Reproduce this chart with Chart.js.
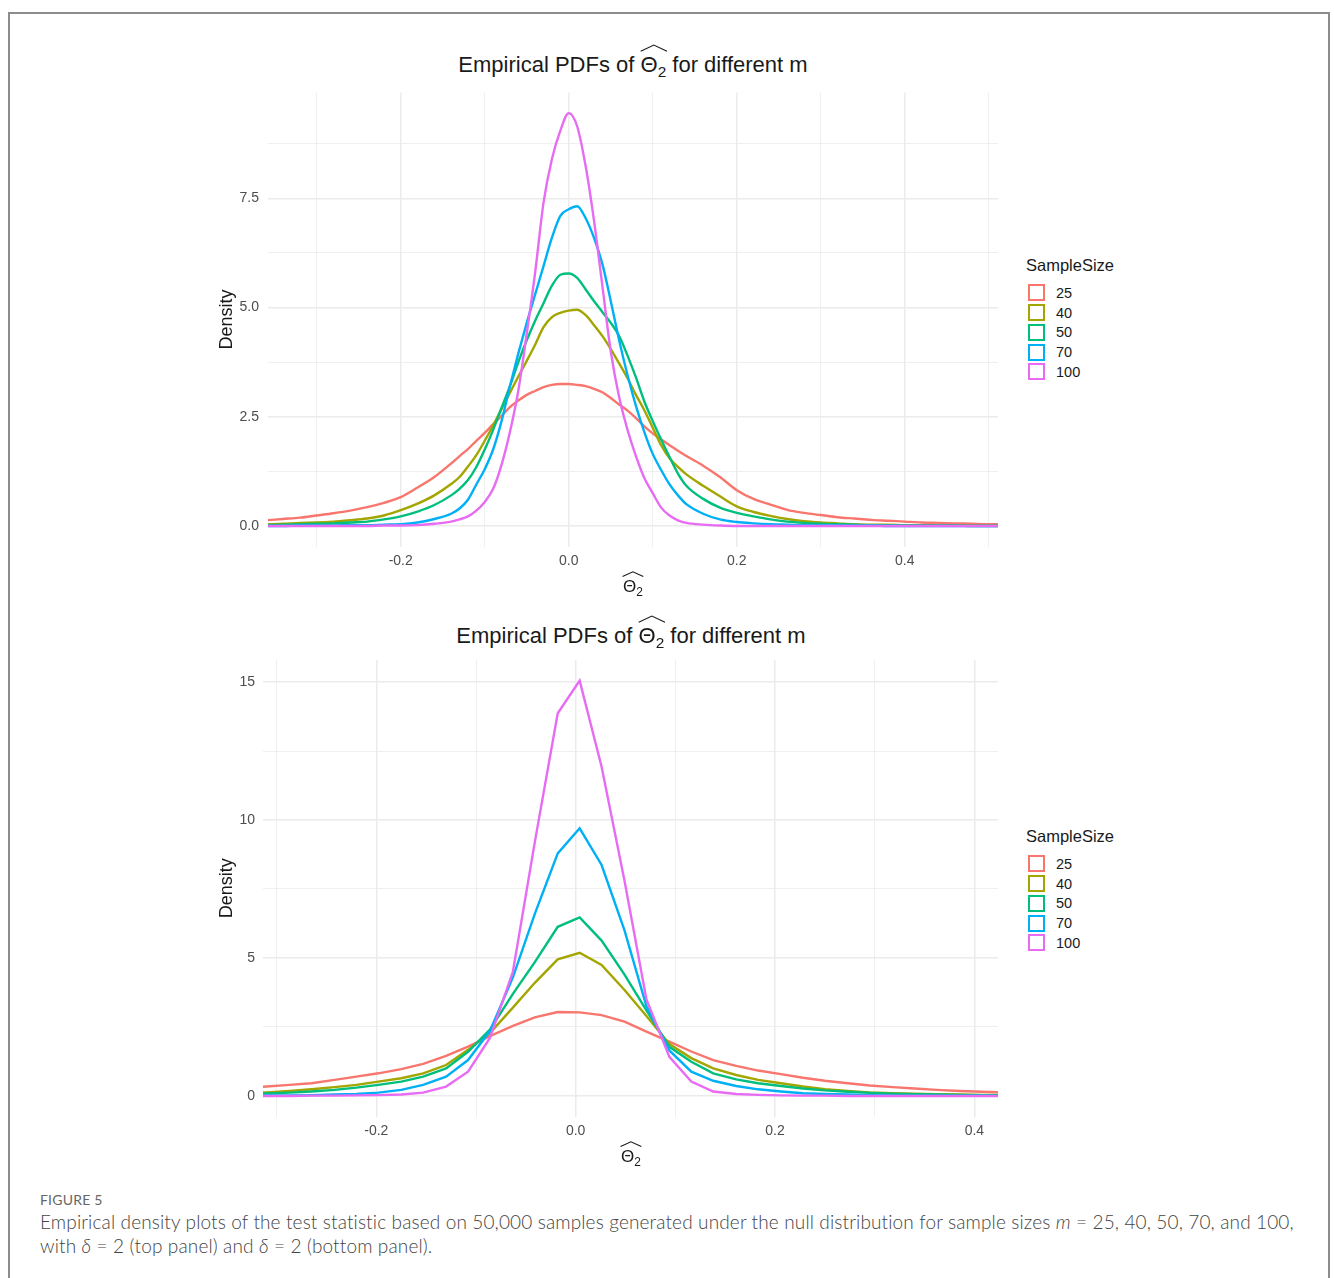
<!DOCTYPE html>
<html>
<head>
<meta charset="utf-8">
<title>Figure 5</title>
<script src="https://cdn.jsdelivr.net/npm/chart.js@4.4.1/dist/chart.umd.min.js"></script>
<style>
  body { margin: 0; width: 1334px; height: 1278px; overflow: hidden; background: #fff; position: relative;
         font-family: "Liberation Sans", Arial, sans-serif; }
  .frame { position: absolute; left: 8px; top: 12px; width: 1322px; height: 1300px; border: 2px solid #8c8c8c; box-sizing: border-box; }
  canvas { position: absolute; }
  .plot-title { position: absolute; width: 800px; text-align: center; font-size: 22px; line-height: 26px; color: #1a1a1a; }
  .axis-title { position: absolute; width: 100px; text-align: center; font-size: 17px; line-height: 20px; color: #1a1a1a; }
  .hatted { position: relative; display: inline-block; }
  .hatted sub { font-size: 0.7em; line-height: 0; vertical-align: -0.3em; }
  .hat { position: absolute; left: -1px; top: -0.38em; width: calc(100% + 2px); height: 0.36em; overflow: visible; }
  .hat polyline { fill: none; stroke: #1a1a1a; stroke-width: 1.1; vector-effect: non-scaling-stroke; }
  .legend { position: absolute; left: 1026px; color: #1a1a1a; }
  .legend-title { font-size: 16.5px; line-height: 20px; margin-bottom: 8px; }
  .legend-row { height: 19.75px; display: flex; align-items: center; font-size: 14.5px; }
  .legend-key { width: 13px; height: 13px; border: 2px solid; margin: 0 11px 0 2px; background: #fff; }
  .fig-label { position: absolute; left: 40px; top: 1191px; font: 400 14px Lato, sans-serif; color: #666; letter-spacing: 0.2px; }
  .caption { position: absolute; left: 40px; top: 1210px; font: 300 19px/24px Lato, sans-serif; color: #444; white-space: nowrap; letter-spacing: 0.14px; }
  .caption i { font-style: italic; font-weight: 300; }
</style>
</head>
<body>
<div class="frame"></div>

<div class="plot-title" style="left:233px; top:52px;">Empirical PDFs of <span class="hatted">Θ<sub>2</sub><svg class="hat" viewBox="0 0 20 6" preserveAspectRatio="none"><polyline points="0.5,5.5 10,0.8 19.5,5.5"/></svg></span> for different m</div>
<canvas id="top-chart" width="800" height="500" style="left:200px; top:88px;"></canvas>
<div class="axis-title" style="left:583px; top:577px;"><span class="hatted">Θ<sub>2</sub><svg class="hat" viewBox="0 0 20 6" preserveAspectRatio="none"><polyline points="0.5,5.5 10,0.8 19.5,5.5"/></svg></span></div>
<div class="legend" id="top-legend" style="top:255px;"></div>

<div class="plot-title" style="left:231px; top:623px;">Empirical PDFs of <span class="hatted">Θ<sub>2</sub><svg class="hat" viewBox="0 0 20 6" preserveAspectRatio="none"><polyline points="0.5,5.5 10,0.8 19.5,5.5"/></svg></span> for different m</div>
<canvas id="bottom-chart" width="805" height="505" style="left:195px; top:655px;"></canvas>
<div class="axis-title" style="left:581px; top:1147px;"><span class="hatted">Θ<sub>2</sub><svg class="hat" viewBox="0 0 20 6" preserveAspectRatio="none"><polyline points="0.5,5.5 10,0.8 19.5,5.5"/></svg></span></div>
<div class="legend" id="bottom-legend" style="top:826px;"></div>

<div class="fig-label">FIGURE 5</div>
<div class="caption">Empirical density plots of the test statistic based on 50,000 samples generated under the null distribution for sample sizes <i>m</i> = 25, 40, 50, 70, and 100,<br>with <i>δ</i> = 2 (top panel) and <i>δ</i> = 2 (bottom panel).</div>

<script>
const sampleSizes = ['25', '40', '50', '70', '100'];
const lineColors = ['#F8766D', '#A3A500', '#00BF7D', '#00B0F6', '#E76BF3'];

// top panel: smooth density estimates
const topX = [-0.36, -0.34, -0.32, -0.30, -0.28, -0.26, -0.24, -0.22, -0.20, -0.18, -0.16, -0.14,
  -0.13, -0.12, -0.11, -0.10, -0.09, -0.08, -0.07, -0.06, -0.05, -0.04, -0.03, -0.02, -0.01, 0.00,
  0.01, 0.02, 0.03, 0.04, 0.05, 0.06, 0.07, 0.08, 0.09, 0.10, 0.11, 0.12, 0.13, 0.14,
  0.16, 0.18, 0.20, 0.22, 0.24, 0.26, 0.28, 0.30, 0.32, 0.34, 0.36, 0.38, 0.40, 0.42, 0.44, 0.46, 0.48, 0.50, 0.52];
const top25 = [0.13, 0.16, 0.19, 0.24, 0.29, 0.35, 0.43, 0.53, 0.66, 0.88, 1.12, 1.43,
  1.60, 1.76, 1.95, 2.13, 2.33, 2.52, 2.72, 2.87, 3.00, 3.09, 3.18, 3.23, 3.25, 3.25,
  3.23, 3.20, 3.14, 3.06, 2.93, 2.78, 2.64, 2.47, 2.28, 2.12, 1.98, 1.85, 1.72, 1.60,
  1.38, 1.12, 0.82, 0.62, 0.49, 0.37, 0.30, 0.25, 0.20, 0.17, 0.14, 0.12, 0.10, 0.08, 0.07, 0.06, 0.05, 0.04, 0.04];
const top40 = [0.04, 0.05, 0.07, 0.08, 0.10, 0.13, 0.17, 0.24, 0.36, 0.51, 0.70, 0.96,
  1.12, 1.36, 1.62, 1.95, 2.30, 2.68, 3.05, 3.42, 3.78, 4.15, 4.55, 4.78, 4.88, 4.93,
  4.95, 4.83, 4.60, 4.35, 4.05, 3.72, 3.38, 3.00, 2.65, 2.25, 1.85, 1.55, 1.35, 1.18,
  0.92, 0.68, 0.45, 0.32, 0.23, 0.16, 0.11, 0.08, 0.06, 0.04, 0.03, 0.03, 0.02, 0.02, 0.01, 0.01, 0.01, 0.01, 0.01];
const top50 = [0.02, 0.03, 0.04, 0.05, 0.06, 0.08, 0.10, 0.15, 0.22, 0.33, 0.48, 0.70,
  0.85, 1.05, 1.35, 1.75, 2.20, 2.70, 3.20, 3.75, 4.25, 4.70, 5.10, 5.50, 5.75, 5.78,
  5.68, 5.42, 5.15, 4.90, 4.65, 4.35, 3.90, 3.40, 2.85, 2.40, 1.98, 1.58, 1.20, 0.92,
  0.62, 0.42, 0.30, 0.22, 0.15, 0.10, 0.07, 0.05, 0.04, 0.03, 0.02, 0.02, 0.01, 0.01, 0.01, 0.01, 0.00, 0.00, 0.00];
const top70 = [0.00, 0.00, 0.01, 0.01, 0.01, 0.02, 0.02, 0.03, 0.04, 0.08, 0.16, 0.28,
  0.40, 0.60, 0.95, 1.30, 1.75, 2.40, 3.20, 3.95, 4.65, 5.30, 5.95, 6.60, 7.10, 7.25,
  7.32, 7.05, 6.60, 6.00, 5.15, 4.25, 3.45, 2.75, 2.15, 1.65, 1.28, 0.95, 0.70, 0.50,
  0.28, 0.15, 0.09, 0.06, 0.04, 0.03, 0.02, 0.02, 0.01, 0.01, 0.01, 0.00, 0.00, 0.00, 0.00, 0.00, 0.00, 0.00, 0.00];
const top100 = [0.00, 0.00, 0.00, 0.00, 0.00, 0.00, 0.00, 0.01, 0.01, 0.02, 0.05, 0.10,
  0.15, 0.22, 0.35, 0.55, 0.85, 1.40, 2.15, 3.10, 4.40, 5.80, 7.40, 8.40, 9.05, 9.45,
  9.15, 8.25, 7.00, 5.50, 4.00, 2.95, 2.20, 1.60, 1.10, 0.75, 0.42, 0.24, 0.13, 0.07,
  0.03, 0.01, 0.00, 0.00, 0.00, 0.00, 0.00, 0.00, 0.00, 0.00, 0.00, 0.00, 0.00, 0.00, 0.00, 0.00, 0.00, 0.00, 0.00];

// bottom panel: frequency polygons
const bottomX = [-0.332, -0.310, -0.287, -0.265, -0.242, -0.220, -0.198, -0.175, -0.153, -0.130, -0.108, -0.086,
  -0.063, -0.041, -0.018, 0.004, 0.026, 0.049, 0.071, 0.094, 0.116, 0.138, 0.161, 0.183, 0.206, 0.228,
  0.250, 0.273, 0.295, 0.318, 0.340, 0.362, 0.385, 0.407, 0.430];
const bottom25 = [0.30, 0.34, 0.40, 0.46, 0.58, 0.70, 0.82, 0.97, 1.16, 1.45, 1.79, 2.17,
  2.54, 2.85, 3.04, 3.03, 2.93, 2.69, 2.33, 1.97, 1.61, 1.30, 1.09, 0.92, 0.79, 0.66,
  0.55, 0.46, 0.38, 0.32, 0.27, 0.22, 0.18, 0.15, 0.13];
const bottom40 = [0.11, 0.13, 0.18, 0.24, 0.32, 0.40, 0.52, 0.64, 0.82, 1.12, 1.67, 2.28,
  3.20, 4.10, 4.95, 5.19, 4.75, 3.84, 2.90, 1.88, 1.37, 1.00, 0.76, 0.58, 0.46, 0.34,
  0.24, 0.18, 0.13, 0.10, 0.08, 0.06, 0.05, 0.04, 0.03];
const bottom50 = [0.08, 0.09, 0.12, 0.16, 0.22, 0.30, 0.40, 0.52, 0.70, 1.00, 1.60, 2.40,
  3.70, 4.85, 6.13, 6.47, 5.63, 4.40, 3.10, 1.78, 1.24, 0.82, 0.60, 0.46, 0.36, 0.27,
  0.20, 0.15, 0.11, 0.08, 0.06, 0.05, 0.04, 0.03, 0.02];
const bottom70 = [0.01, 0.02, 0.02, 0.03, 0.05, 0.07, 0.12, 0.22, 0.40, 0.70, 1.30, 2.35,
  4.30, 6.60, 8.79, 9.70, 8.37, 6.00, 3.25, 1.65, 0.88, 0.55, 0.36, 0.24, 0.16, 0.10,
  0.07, 0.05, 0.03, 0.02, 0.01, 0.01, 0.01, 0.01, 0.00];
const bottom100 = [0.00, 0.00, 0.00, 0.01, 0.01, 0.02, 0.03, 0.05, 0.12, 0.34, 0.88, 2.10,
  4.50, 9.20, 13.87, 15.05, 11.93, 7.80, 3.50, 1.42, 0.52, 0.16, 0.07, 0.04, 0.02, 0.01,
  0.01, 0.00, 0.00, 0.00, 0.00, 0.00, 0.00, 0.00, 0.00];

// ticks (blank label = minor grid line)
const topXTicks = [-0.3, -0.2, -0.1, 0, 0.1, 0.2, 0.3, 0.4, 0.5];
const topXLabels = ['', '-0.2', '', '0.0', '', '0.2', '', '0.4', ''];
const topYTicks = [0, 1.25, 2.5, 3.75, 5, 6.25, 7.5, 8.75];
const topYLabels = ['0.0', '', '2.5', '', '5.0', '', '7.5', ''];
const bottomXTicks = [-0.3, -0.2, -0.1, 0, 0.1, 0.2, 0.3, 0.4];
const bottomXLabels = ['', '-0.2', '', '0.0', '', '0.2', '', '0.4'];
const bottomYTicks = [0, 2.5, 5, 7.5, 10, 12.5, 15];
const bottomYLabels = ['0', '', '5', '', '10', '', '15'];

Chart.defaults.font.family = '"Liberation Sans", Arial, sans-serif';
Chart.defaults.color = '#4d4d4d';

function axis(values, labels, min, max, extra) {
    return Object.assign({
        type: 'linear',
        min: min,
        max: max,
        afterBuildTicks: s => { s.ticks = values.map(v => ({ value: v })); },
        ticks: {
            callback: (v, i) => labels[i],
            autoSkip: false,
            maxRotation: 0,
            font: { size: 14 },
            color: '#4d4d4d'
        },
        grid: {
            drawTicks: false,
            color: '#ebebeb',
            lineWidth: c => labels[c.index] ? 1.5 : 0.8
        },
        border: { display: false }
    }, extra);
}

function buildChart(canvasId, cfg) {
    let datasets = sampleSizes.map((size, i) => ({
        label: size,
        data: cfg.x.map((x, j) => ({ x: x, y: cfg.series[i][j] })),
        borderColor: lineColors[i],
        backgroundColor: '#fff',
        borderWidth: 2.4,
        pointRadius: 0,
        fill: false,
        tension: 0,
        cubicInterpolationMode: cfg.smooth ? 'monotone' : 'default',
        order: sampleSizes.length - i   // larger sample sizes drawn on top
    }));

    let yAxis = axis(cfg.yTicks, cfg.yLabels, cfg.yMin, cfg.yMax, {
        afterFit: s => { s.width = 68; s.paddingTop = 0; s.paddingBottom = 0; },
        title: { display: true, text: 'Density', color: '#1a1a1a', font: { size: 18 }, padding: { top: cfg.yTitlePad, bottom: 0 } }
    });
    yAxis.ticks.padding = cfg.yTickPad;

    let xAxis = axis(cfg.xTicks, cfg.xLabels, cfg.xMin, cfg.xMax, {
        afterFit: s => { s.height = cfg.xHeight; s.paddingLeft = 0; s.paddingRight = 0; }
    });
    xAxis.ticks.padding = 6;

    return new Chart(document.getElementById(canvasId), {
        type: 'line',
        data: { datasets: datasets },
        options: {
            responsive: false,
            animation: false,
            layout: { padding: { top: cfg.padTop, right: 2, left: 0, bottom: 0 } },
            scales: { x: xAxis, y: yAxis },
            plugins: { legend: { display: false }, tooltip: { enabled: false } }
        }
    });
}

function buildLegend(divId) {
    let div = document.getElementById(divId);
    div.innerHTML = '<div class="legend-title">SampleSize</div>';
    sampleSizes.forEach((size, i) => {
        let row = document.createElement('div');
        row.className = 'legend-row';
        row.innerHTML = `<span class="legend-key" style="border-color:${lineColors[i]}"></span>${size}`;
        div.appendChild(row);
    });
}

buildChart('top-chart', {
    x: topX, series: [top25, top40, top50, top70, top100], smooth: true,
    xTicks: topXTicks, xLabels: topXLabels, xMin: -0.358, xMax: 0.511,
    yTicks: topYTicks, yLabels: topYLabels, yMin: -0.4725, yMax: 9.9225,
    padTop: 4.5, xHeight: 41.4, yTitlePad: 16.2, yTickPad: 9
});
buildChart('bottom-chart', {
    x: bottomX, series: [bottom25, bottom40, bottom50, bottom70, bottom100], smooth: false,
    xTicks: bottomXTicks, xLabels: bottomXLabels, xMin: -0.3137, xMax: 0.4237,
    yTicks: bottomYTicks, yLabels: bottomYLabels, yMin: -0.7525, yMax: 15.8025,
    padTop: 4.9, xHeight: 43.3, yTitlePad: 21.2, yTickPad: 8
});
buildLegend('top-legend');
buildLegend('bottom-legend');
</script>
</body>
</html>
